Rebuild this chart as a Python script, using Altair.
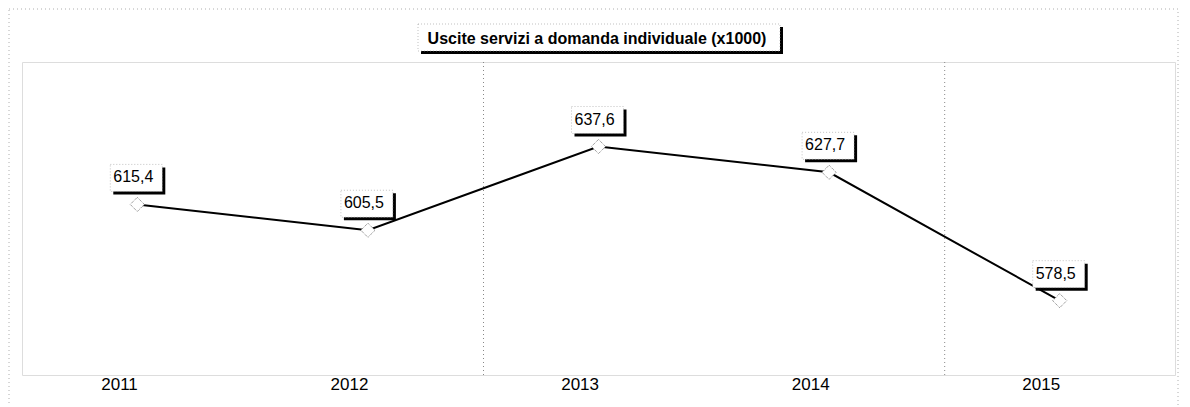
import altair as alt
import pandas as pd

years = ["2011", "2012", "2013", "2014", "2015"]
values = [615.4, 605.5, 637.6, 627.7, 578.5]
labels = ["615,4", "605,5", "637,6", "627,7", "578,5"]
grid_years = ["2013", "2015"]
title_text = "Uscite servizi a domanda individuale (x1000)"

df = pd.DataFrame({"year": years, "value": values, "label": labels})
gdf = pd.DataFrame({"year": grid_years})

W, H = 1153, 313
FONT = "Liberation Sans"

xs = alt.X("year:O", scale=alt.Scale(type="point", padding=0.5, domain=years),
           axis=alt.Axis(title=None, labelAngle=0, ticks=False, domain=False,
                         labelFont=FONT, labelFontSize=17, labelColor="#000",
                         labelPadding=9, grid=False))
ys = alt.Y("value:Q", scale=alt.Scale(domain=[550, 670], nice=False, zero=False), axis=None)

base = alt.Chart(df)

# outer frame (decorative)
outer = alt.Chart(pd.DataFrame({"a": [0]})).mark_rect(
    fill=None, stroke="#999", strokeWidth=0.8, strokeDash=[1, 3]
).encode(x=alt.value(-13), x2=alt.value(W + 3), y=alt.value(-53), y2=alt.value(H + 36))

grid = alt.Chart(gdf).mark_rule(color="#888", strokeDash=[1, 3], strokeWidth=1, xOffset=-115).encode(
    x=alt.X("year:O", scale=alt.Scale(type="point", padding=0.5, domain=years)),
    y=alt.value(0), y2=alt.value(H))

# title box
tshadow = alt.Chart(pd.DataFrame({"a": [0]})).mark_rect(fill="#000").encode(
    x=alt.value(399), x2=alt.value(761), y=alt.value(-35), y2=alt.value(-8))
tbox = alt.Chart(pd.DataFrame({"a": [0]})).mark_rect(
    fill="white", stroke="#999", strokeWidth=0.6, strokeDash=[1, 2]).encode(
    x=alt.value(396), x2=alt.value(758), y=alt.value(-38), y2=alt.value(-11))
ttext = alt.Chart(pd.DataFrame({"t": [title_text]})).mark_text(
    font=FONT, fontSize=16, fontWeight="bold", color="#000", baseline="middle", align="center"
).encode(x=alt.value(575), y=alt.value(-23), text="t:N")

line = base.mark_line(color="#000", strokeWidth=2).encode(x=xs, y=ys)
pts = base.mark_point(shape="diamond", filled=True, fill="white", stroke="#777",
                      strokeWidth=1, strokeDash=[1, 1], size=200, opacity=1).encode(x=xs, y=ys)

shadow = base.mark_rect(fill="#000", xOffset=-24, x2Offset=28, yOffset=-37, y2Offset=-10).encode(
    x=xs, x2="year:O", y=ys, y2="value:Q")
box = base.mark_rect(fill="white", stroke="#999", strokeWidth=0.6, strokeDash=[1, 2],
                     xOffset=-27, x2Offset=25, yOffset=-40, y2Offset=-13).encode(
    x=xs, x2="year:O", y=ys, y2="value:Q")
txt = base.mark_text(font=FONT, fontSize=16, color="#000", dx=-4, dy=-27,
                     baseline="middle", align="center").encode(x=xs, y=ys, text="label:N")

chart = alt.layer(outer, grid, tshadow, tbox, ttext, line, pts, shadow, box, txt).properties(
    width=W, height=H,
    autosize=alt.AutoSizeParams(type="none"),
    padding={"left": 14, "top": 54, "right": 6, "bottom": 30},
).configure_view(stroke="#888", strokeDash=[1, 2], strokeWidth=1).configure(background="white")

chart.save("out.html", embed_options={"renderer": "svg", "actions": False})
